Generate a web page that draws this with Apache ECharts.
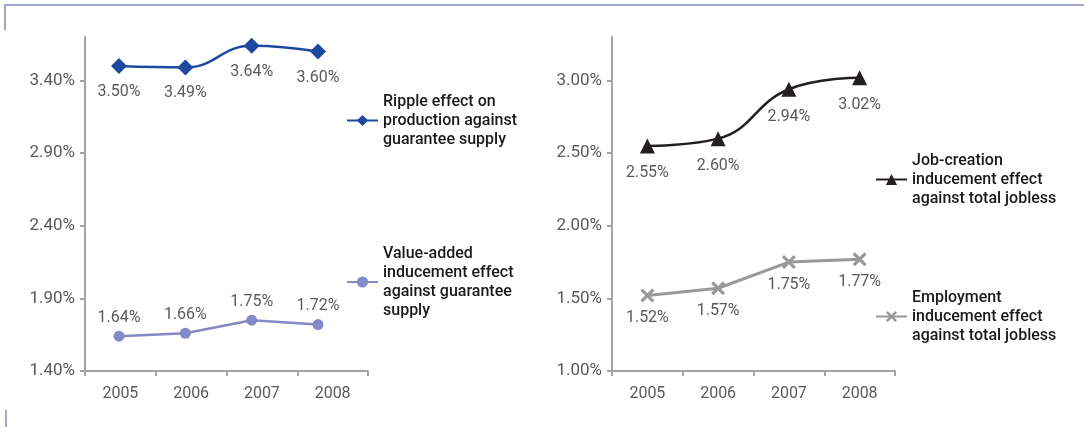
<!DOCTYPE html>
<html>
<head>
<meta charset="utf-8">
<script src="https://cdn.jsdelivr.net/npm/echarts@6/dist/echarts.min.js"></script>
<style>
  html, body { margin: 0; padding: 0; background: #fff; }
  #chart { width: 1084px; height: 427px; }
</style>
</head>
<body>
<div id="chart"></div>
<script>
// Years shown on both charts
const years = ['2005', '2006', '2007', '2008'];

// Left chart: effects against guarantee supply (%)
const ripple = [3.50, 3.49, 3.64, 3.60];
const valueAdded = [1.64, 1.66, 1.75, 1.72];

// Right chart: effects against total jobless (%)
const jobCreation = [2.55, 2.60, 2.94, 3.02];
const employment = [1.52, 1.57, 1.75, 1.77];

// Y-axis tick labels
const leftTicks = [1.40, 1.90, 2.40, 2.90, 3.40];
const rightTicks = [1.00, 1.50, 2.00, 2.50, 3.00];

const names = {
  ripple: 'Ripple effect on\nproduction against\nguarantee supply',
  valueAdded: 'Value-added\ninducement effect\nagainst guarantee\nsupply',
  jobCreation: 'Job-creation\ninducement effect\nagainst total jobless',
  employment: 'Employment\ninducement effect\nagainst total jobless'
};

const FONT = 'Roboto, "Liberation Sans", sans-serif';
const AXIS_COLOR = '#a3a3a3';
const LABEL_COLOR = '#5a5a5a';

const pct = v => v.toFixed(2) + '%';

function yAxis(gridIndex, min, max, ticks) {
  return {
    type: 'value', gridIndex, min, max, interval: 0.5,
    splitLine: { show: false },
    axisLine: { show: true, lineStyle: { color: AXIS_COLOR, width: 2 } },
    axisTick: { show: true, length: 5, customValues: ticks, lineStyle: { color: AXIS_COLOR, width: 2 } },
    axisLabel: {
      customValues: ticks, formatter: pct, margin: 10,
      color: LABEL_COLOR, fontFamily: FONT, fontSize: 17
    }
  };
}

function catAxis(gridIndex) {
  return {
    type: 'category', gridIndex, data: years, boundaryGap: true,
    axisLine: { show: true, lineStyle: { color: AXIS_COLOR, width: 2 } },
    axisTick: { show: true, length: 5, lineStyle: { color: AXIS_COLOR, width: 2 } },
    axisLabel: { color: LABEL_COLOR, fontFamily: FONT, fontSize: 16, margin: 15 }
  };
}

const dataLabel = (pos, dist) => ({
  show: true, position: pos, distance: dist, formatter: p => pct(Array.isArray(p.value) ? p.value[1] : p.value),
  color: LABEL_COLOR, fontFamily: FONT, fontSize: 16
});

// Thick "x" marker
const crossPath = 'path://M0,1.6L1.6,0L5,3.4L8.4,0L10,1.6L6.6,5L10,8.4L8.4,10L5,6.6L1.6,10L0,8.4L3.4,5Z';

const legendText = { fontFamily: FONT, fontSize: 16, fontWeight: 500, color: '#1a1a1a', lineHeight: 19 };
const legend = (name, left, top) => ({
  data: [name], left, top, orient: 'vertical', itemWidth: 31, itemHeight: 14, itemGap: 0,
  textStyle: legendText, selectedMode: false
});

const option = {
  animation: false,
  backgroundColor: '#fff',
  grid: [
    { left: 85, top: 37, width: 283, height: 334 },
    { left: 612, top: 37, width: 283, height: 334 }
  ],
  xAxis: [
    catAxis(0),
    // positions the left chart's points along the year scale
    { type: 'value', gridIndex: 0, min: 2004.487, max: 2008.754, show: false },
    catAxis(1)
  ],
  yAxis: [
    yAxis(0, 1.4, 3.7, leftTicks),
    yAxis(1, 1.0, 3.3, rightTicks)
  ],
  legend: [
    legend(names.ripple, 341, 87),
    legend(names.valueAdded, 341, 239),
    legend(names.jobCreation, 870, 146),
    legend(names.employment, 870, 283)
  ],
  series: [
    {
      name: names.ripple, type: 'line', xAxisIndex: 1, yAxisIndex: 0,
      data: years.map((y, i) => [+y, ripple[i]]),
      smooth: 0.45, symbol: 'diamond', symbolSize: 16,
      color: '#1d4a9e', lineStyle: { width: 2.5, color: '#1d4a9e' },
      label: dataLabel('bottom', 10)
    },
    {
      name: names.valueAdded, type: 'line', xAxisIndex: 1, yAxisIndex: 0,
      data: years.map((y, i) => [+y, valueAdded[i]]),
      symbol: 'circle', symbolSize: 11,
      color: '#8589c8', lineStyle: { width: 2.5, color: '#8589c8' },
      label: dataLabel('top', 5)
    },
    {
      name: names.jobCreation, type: 'line', xAxisIndex: 2, yAxisIndex: 1,
      data: jobCreation,
      smooth: 0.45, symbol: 'triangle', symbolSize: 15,
      color: '#231f20', lineStyle: { width: 2.5, color: '#231f20' },
      label: dataLabel('bottom', 12)
    },
    {
      name: names.employment, type: 'line', xAxisIndex: 2, yAxisIndex: 1,
      data: employment,
      symbol: crossPath, symbolSize: 14,
      color: '#999999', lineStyle: { width: 3, color: '#999999' },
      label: dataLabel('bottom', 8)
    }
  ],
  graphic: [
    { type: 'polyline', shape: { points: [[5, 30], [5, 5], [1084, 5]] }, style: { stroke: '#a3a6d4', lineWidth: 2, fill: null } },
    { type: 'line', shape: { x1: 6, y1: 410, x2: 6, y2: 427 }, style: { stroke: '#a3a6d4', lineWidth: 2 } }
  ]
};

const chart = echarts.init(document.getElementById('chart'), null, { renderer: 'canvas' });
chart.setOption(option);
</script>
</body>
</html>
